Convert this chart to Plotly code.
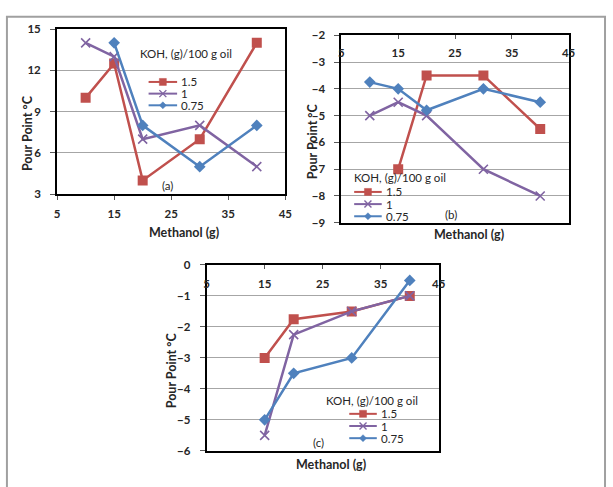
import plotly.graph_objects as go

# ---------------- data ----------------
series_names = ["1.5", "1", "0.75"]
colors = ["#C0504D", "#8064A2", "#4F81BD"]

# (a)
a_x_15 = [10, 15, 20, 30, 40]
a_y_15 = [10, 12.5, 4, 7, 14]
a_x_1 = [10, 15, 20, 30, 40]
a_y_1 = [14, 13, 7, 8, 5]
a_x_075 = [15, 20, 30, 40]
a_y_075 = [14, 8, 5, 8]

# (b)
b_x_15 = [15, 20, 30, 40]
b_y_15 = [-7, -3.5, -3.5, -5.5]
b_x_1 = [10, 15, 20, 30, 40]
b_y_1 = [-5, -4.5, -5, -7, -8]
b_x_075 = [10, 15, 20, 30, 40]
b_y_075 = [-3.75, -4, -4.8, -4, -4.5]

# (c)
c_x_15 = [15, 20, 30, 40]
c_y_15 = [-3, -1.75, -1.5, -1]
c_x_1 = [15, 20, 30, 40]
c_y_1 = [-5.5, -2.25, -1.5, -1]
c_x_075 = [15, 20, 30, 40]
c_y_075 = [-5, -3.5, -3, -0.5]

x_ticks = [5, 15, 25, 35, 45]
a_y_ticks = [3, 6, 9, 12, 15]
b_y_ticks = [-9, -8, -7, -6, -5, -4, -3, -2]
c_y_ticks = [-6, -5, -4, -3, -2, -1, 0]

legend_title = "KOH, (g)/100 g oil"
x_title = "Methanol (g)"
y_title = "Pour Point °C"
panel_labels = ["(a)", "(b)", "(c)"]

# ---------------- layout helpers ----------------
W, H = 613, 487
def px(x):
    return x / W
def py(y):
    return 1 - y / H

FONT = "Lato, Open Sans, sans-serif"
TXT = "#262626"

fig = go.Figure()

markers = [
    dict(symbol="square", size=10, color=colors[0]),
    dict(symbol="x-thin", size=9, color=colors[1], line=dict(width=1.6, color=colors[1])),
    dict(symbol="diamond", size=9, color=colors[2]),
]

panels = [
    ("x", "y", [(a_x_15, a_y_15), (a_x_1, a_y_1), (a_x_075, a_y_075)]),
    ("x2", "y2", [(b_x_15, b_y_15), (b_x_1, b_y_1), (b_x_075, b_y_075)]),
    ("x3", "y3", [(c_x_15, c_y_15), (c_x_1, c_y_1), (c_x_075, c_y_075)]),
]
for xa, ya, data in panels:
    for i, (xs, ys) in enumerate(data):
        fig.add_trace(go.Scatter(
            x=xs, y=ys, mode="lines+markers", name=series_names[i],
            line=dict(color=colors[i], width=2.5),
            marker=markers[i], xaxis=xa, yaxis=ya, showlegend=False,
        ))

tickfont = dict(family=FONT, size=11.5, color=TXT, weight="bold")
common_x = dict(range=[5, 45], tickvals=x_ticks, showgrid=False, zeroline=False,
                showline=True, linecolor="black", linewidth=2, mirror=True,
                tickfont=tickfont, tickcolor="#595959", ticklen=4,
                ticklabeloverflow="allow")
common_y = dict(showgrid=True, gridcolor="#A6A6A6", gridwidth=1, zeroline=False,
                showline=True, linecolor="black", linewidth=2, mirror=True,
                tickfont=tickfont, ticks="outside", tickcolor="#595959", ticklen=5,
                ticklabeloverflow="allow")

fig.update_layout(
    width=W, height=H,
    margin=dict(l=0, r=0, t=0, b=0),
    paper_bgcolor="white", plot_bgcolor="white",
    showlegend=False,
    xaxis=dict(common_x, domain=[px(55), px(287)], anchor="y", ticks="outside",
               ticklabelstandoff=4),
    yaxis=dict(common_y, domain=[py(192.3), py(22.7)], anchor="x", range=[3, 15],
               tickvals=a_y_ticks, ticklabelstandoff=7),
    xaxis2=dict(common_x, domain=[px(344), px(575)], anchor="y2", side="top",
                ticks="inside", ticklabelposition="inside", ticklabelstandoff=9),
    yaxis2=dict(common_y, domain=[py(221.7), py(29)], anchor="x2", range=[-9, -2],
                tickvals=b_y_ticks, ticklabelstandoff=7),
    xaxis3=dict(common_x, domain=[px(207), px(443)], anchor="y3", side="top",
                ticks="inside", ticklabelposition="inside", ticklabelstandoff=10),
    yaxis3=dict(common_y, domain=[py(456), py(265)], anchor="x3", range=[-6, 0],
                tickvals=c_y_ticks, ticklabelstandoff=7),
)

ann_font_b = dict(family=FONT, size=12.5, color=TXT, weight="bold")
ann_font_l = dict(family=FONT, size=11.5, color=TXT)
leg_font = dict(family=FONT, size=11.5, color=TXT)
annotations = [
    # x titles
    dict(text=x_title, x=px(184), y=py(232), font=ann_font_b),
    dict(text=x_title, x=px(474), y=py(234), font=ann_font_b),
    dict(text=x_title, x=px(333), y=py(470), font=ann_font_b),
    # y titles
    dict(text=y_title, x=px(25), y=py(130), font=ann_font_b, textangle=-90),
    dict(text=y_title, x=px(314), y=py(138), font=ann_font_b, textangle=-90),
    dict(text=y_title, x=px(171), y=py(373), font=ann_font_b, textangle=-90),
    # panel labels
    dict(text=panel_labels[0], x=px(167), y=py(183), font=ann_font_l),
    dict(text=panel_labels[1], x=px(455), y=py(213), font=ann_font_l),
    dict(text=panel_labels[2], x=px(321), y=py(447), font=ann_font_l),
]

# ---------------- manual legends (compact, as in the reference) ----------------
# (title_left, title_y, line_x0, line_x1, first_entry_y, entry_step)
legend_boxes = [
    (137, 48, 148, 177, 77, 12),
    (355, 175, 357, 385, 190, 12.5),
    (326, 404, 352, 380, 418, 12.5),
]
s = 3.5
marker_paths = [
    f"M{-s},{-s} L{s},{-s} L{s},{s} L{-s},{s} Z",
    f"M{-s},{-s} L{s},{s} M{-s},{s} L{s},{-s}",
    f"M0,{-s} L{s},0 L0,{s} L{-s},0 Z",
]
shapes = []
for tl, ty, lx0, lx1, ey0, step in legend_boxes:
    annotations.append(dict(text=legend_title, x=px(tl), y=py(ty), font=leg_font,
                            xanchor="left"))
    for i, name in enumerate(series_names):
        ey = ey0 + i * step
        shapes.append(dict(type="line", xref="paper", yref="paper",
                           x0=px(lx0), x1=px(lx1), y0=py(ey), y1=py(ey),
                           line=dict(color=colors[i], width=2)))
        filled = i != 1
        shapes.append(dict(type="path", xref="paper", yref="paper",
                           xsizemode="pixel", ysizemode="pixel",
                           xanchor=px((lx0 + lx1) / 2), yanchor=py(ey),
                           path=marker_paths[i],
                           fillcolor=colors[i] if filled else "rgba(0,0,0,0)",
                           line=dict(color=colors[i], width=1.4 if not filled else 0.5)))
        annotations.append(dict(text=name, x=px(lx1 + 2), y=py(ey), font=leg_font,
                                xanchor="left"))

for a in annotations:
    a.setdefault("xanchor", "center")
    a.update(xref="paper", yref="paper", showarrow=False, yanchor="middle")

# outer frame
shapes.append(dict(type="rect", xref="paper", yref="paper",
                   x0=px(4), x1=px(612), y0=py(500), y1=py(10),
                   line=dict(color="#A0A0A0", width=2), fillcolor="rgba(0,0,0,0)"))

fig.update_layout(annotations=annotations, shapes=shapes)

fig.write_html("out.html", config={"displayModeBar": False},
               post_script="document.body.style.margin='0';document.body.style.overflow='hidden';")
